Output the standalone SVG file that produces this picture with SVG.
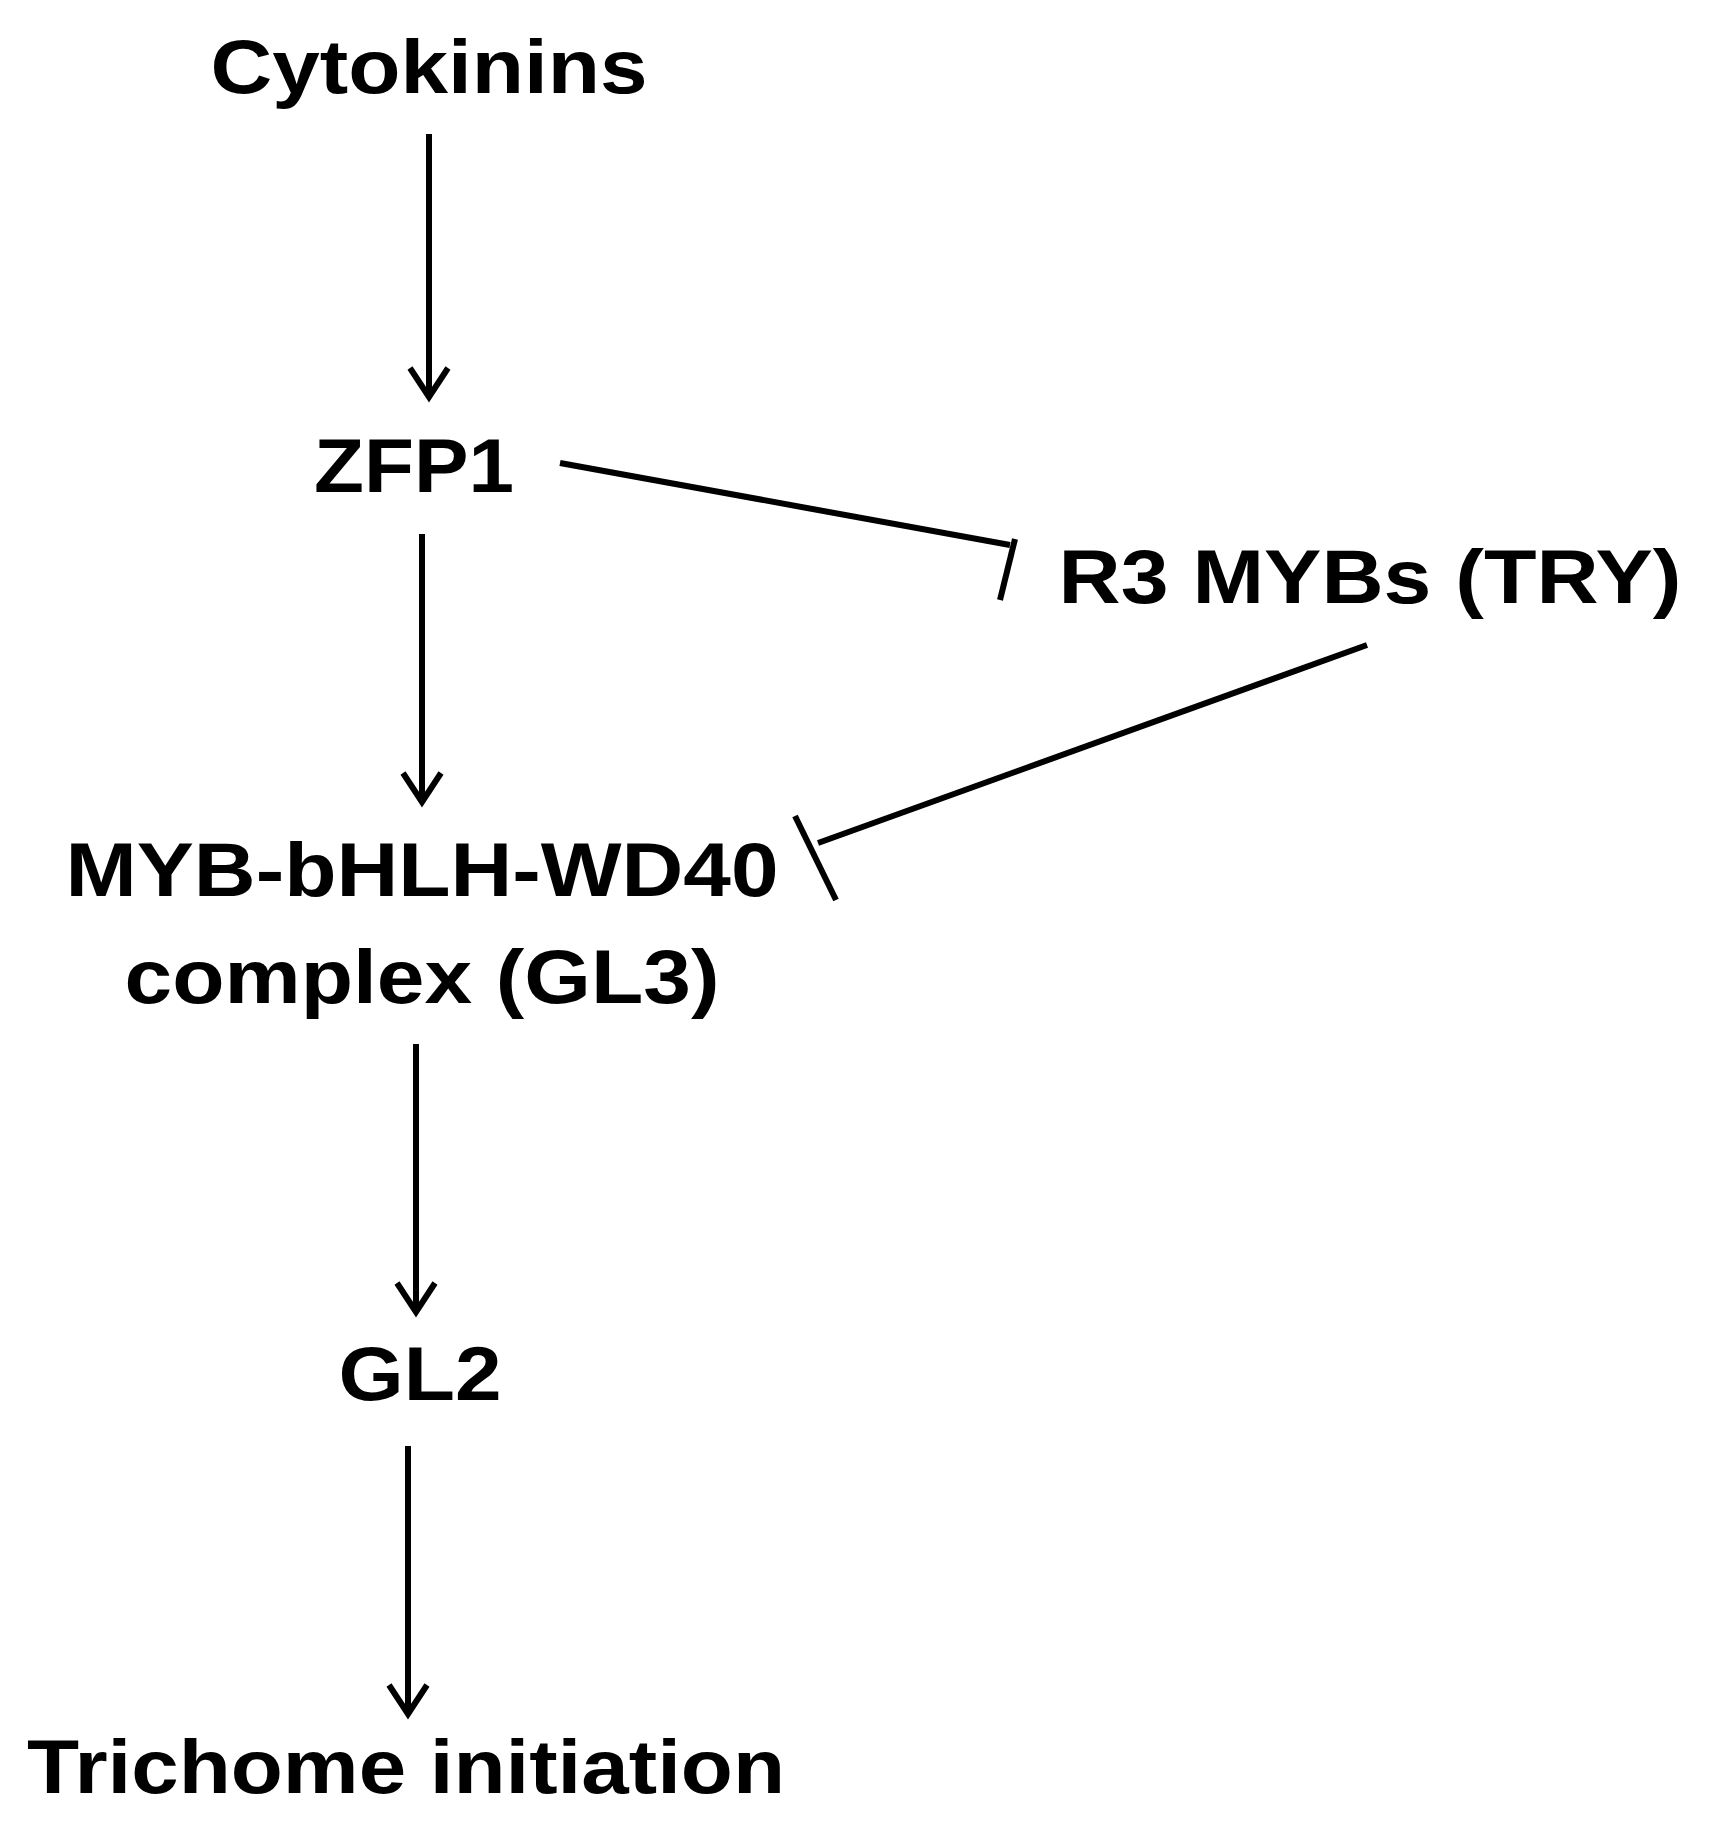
<svg xmlns="http://www.w3.org/2000/svg" width="1710" height="1840" viewBox="0 0 1710 1840">
<style>
text{font-family:"Liberation Sans",Arial,sans-serif;font-weight:bold;font-size:76px;fill:#000;text-anchor:middle}
.c line,.c polyline{stroke:#000;stroke-width:6;fill:none}
</style>
<rect width="1710" height="1840" fill="#fff"/>
<g id="cytokinins"><text x="429" y="93" textLength="437" lengthAdjust="spacingAndGlyphs">Cytokinins</text></g>
<g id="zfp1"><text x="414" y="492" textLength="200" lengthAdjust="spacingAndGlyphs">ZFP1</text></g>
<g id="r3mybs"><text x="1370" y="603" textLength="623" lengthAdjust="spacingAndGlyphs">R3 MYBs (TRY)</text></g>
<g id="complex"><text x="422" y="896" textLength="713" lengthAdjust="spacingAndGlyphs">MYB-bHLH-WD40</text><text x="422" y="1003" textLength="595" lengthAdjust="spacingAndGlyphs">complex (GL3)</text></g>
<g id="gl2"><text x="420" y="1400" textLength="163" lengthAdjust="spacingAndGlyphs">GL2</text></g>
<g id="trichome"><text x="406" y="1793" textLength="758" lengthAdjust="spacingAndGlyphs">Trichome initiation</text></g>
<g class="c" id="connectors">
<line x1="429" y1="134" x2="429" y2="397"/><polyline points="410,368 429,397 448,368"/>
<line x1="422" y1="534" x2="422" y2="802"/><polyline points="403,773 422,802 441,773"/>
<line x1="416" y1="1044" x2="416" y2="1312"/><polyline points="397,1283 416,1312 435,1283"/>
<line x1="408" y1="1446" x2="408" y2="1714"/><polyline points="389,1685 408,1714 427,1685"/>
<line x1="560" y1="463" x2="1010" y2="545"/><line x1="1015" y1="539" x2="1000" y2="600"/>
<line x1="1367" y1="645" x2="818" y2="843"/><line x1="795" y1="816" x2="836" y2="900"/>
</g>
</svg>
